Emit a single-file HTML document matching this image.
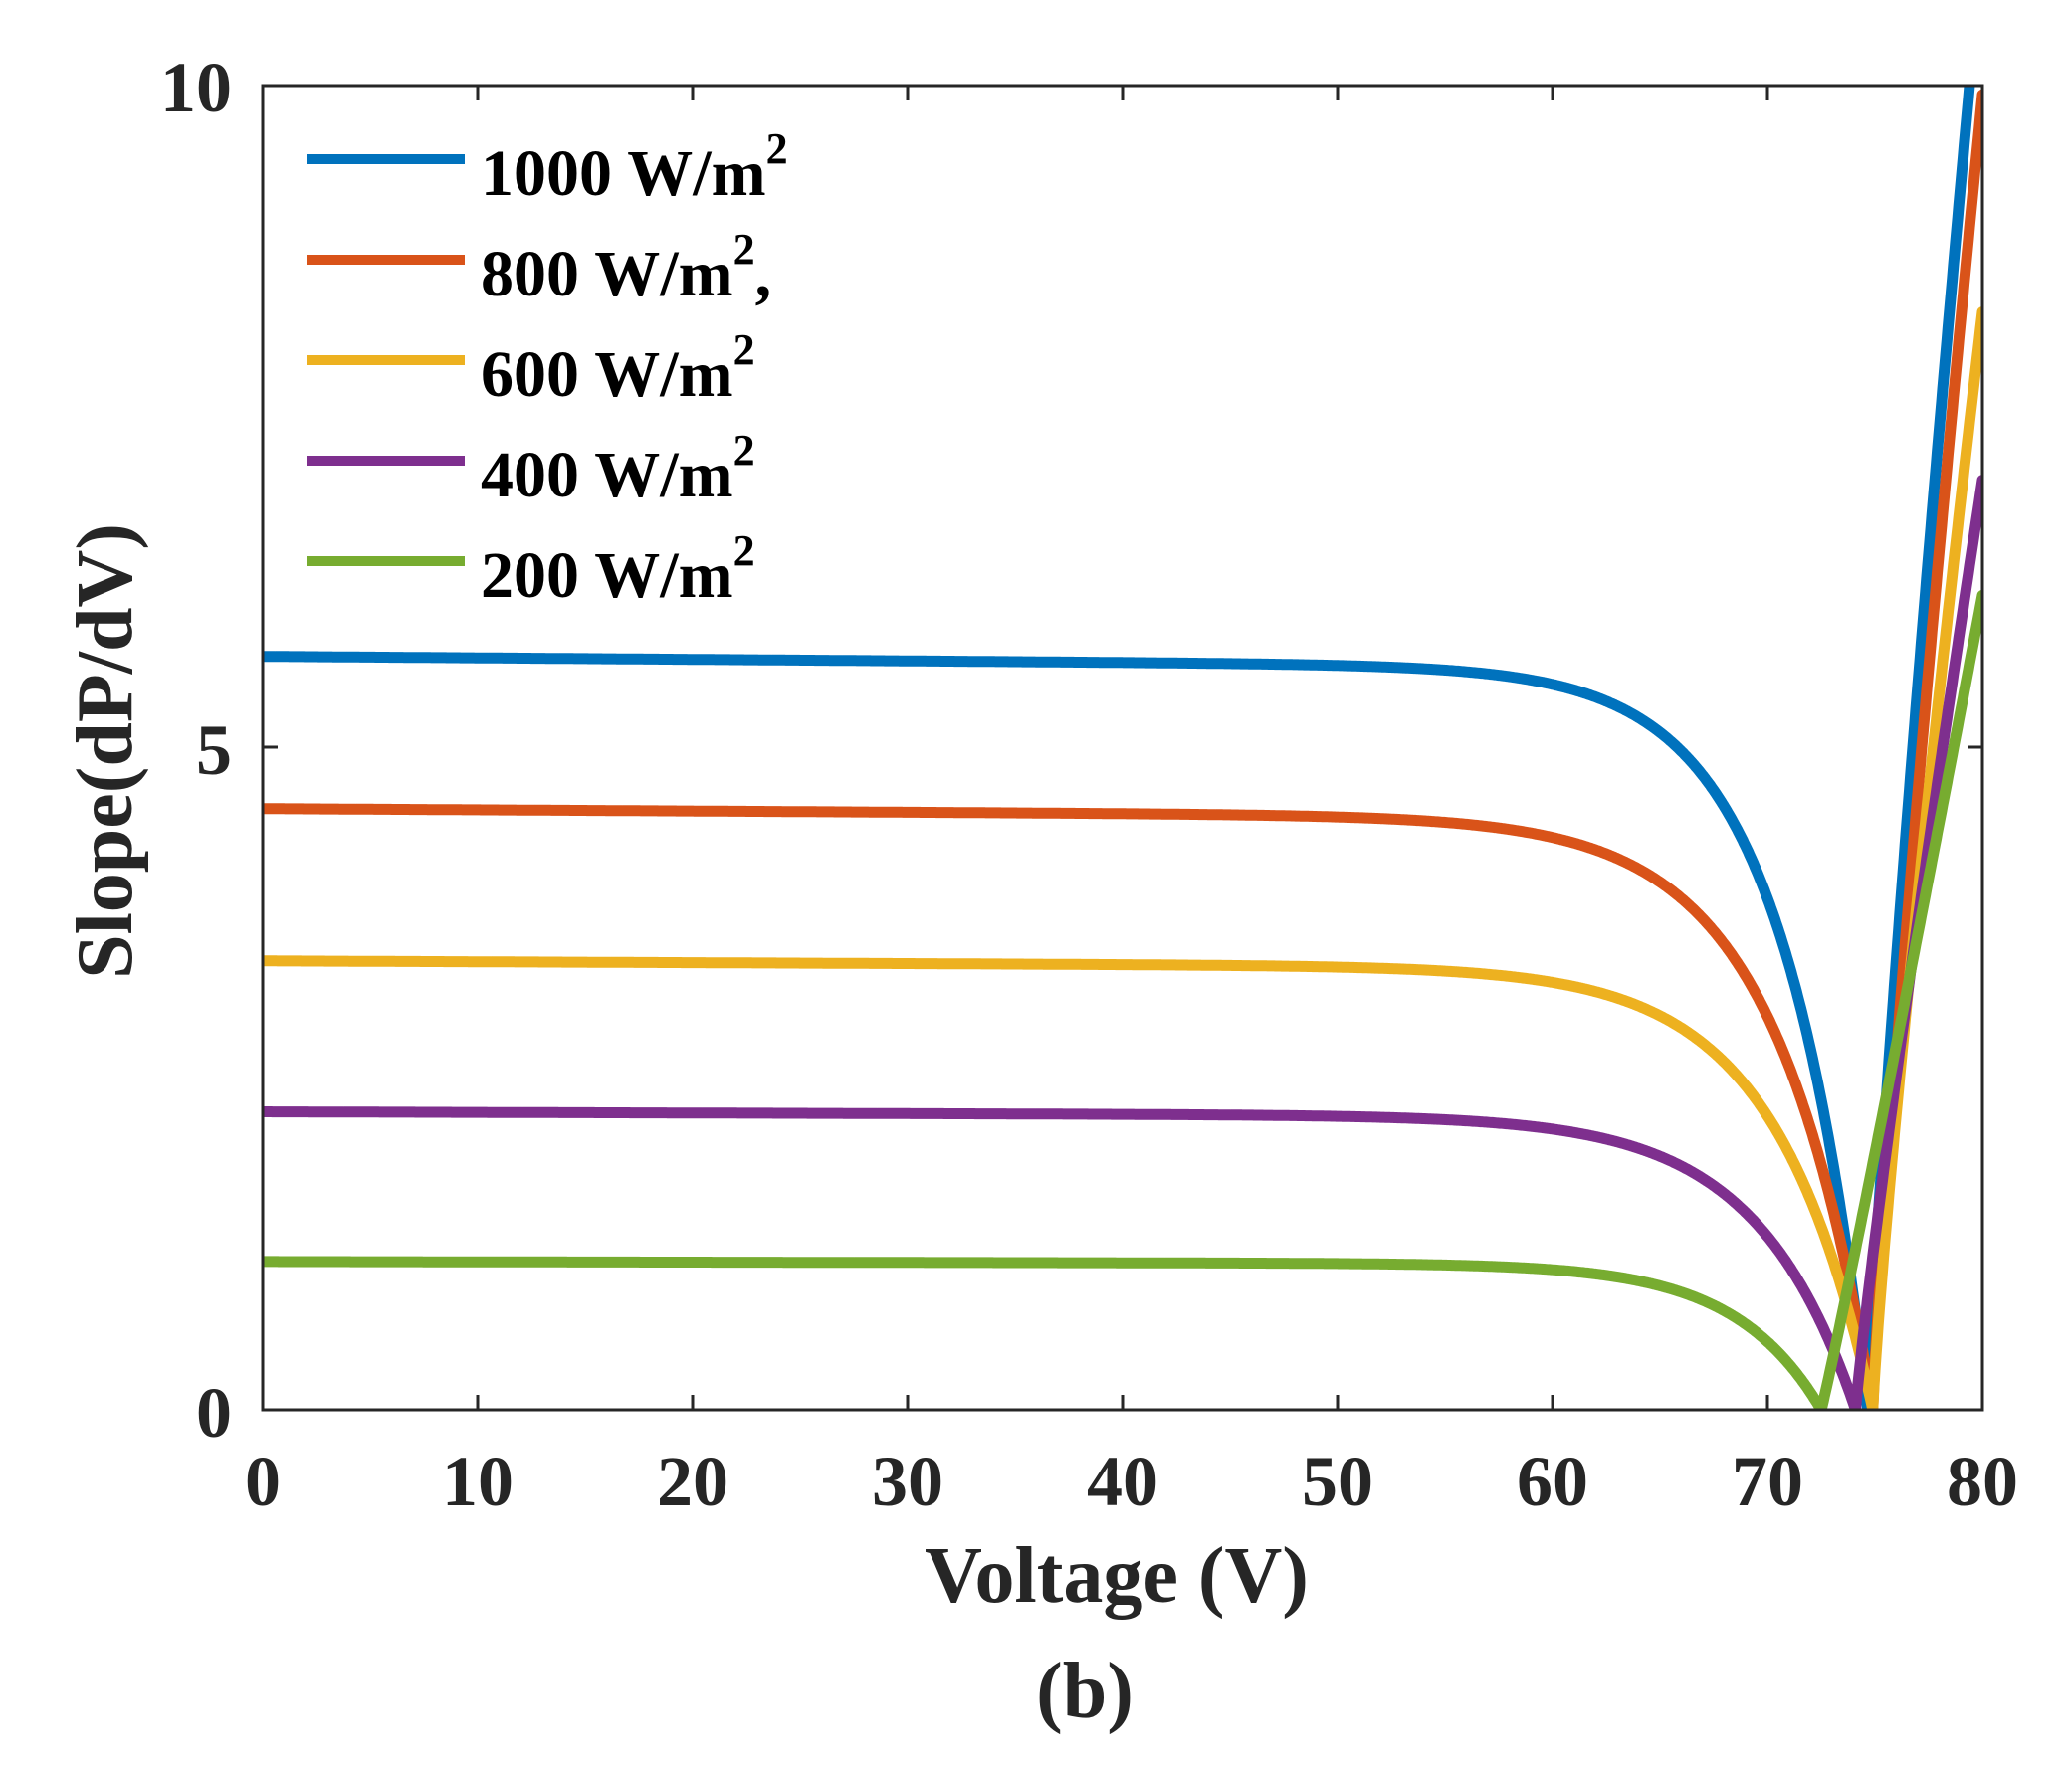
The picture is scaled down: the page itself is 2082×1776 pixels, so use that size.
<!DOCTYPE html>
<html><head><meta charset="utf-8"><style>
html,body{margin:0;padding:0;background:#fff;}
svg{display:block;}
text{font-family:"Liberation Serif","Times New Roman",serif;font-weight:bold;}
</style></head><body>
<svg id="s" width="2082" height="1776" viewBox="0 0 2082 1776" xmlns="http://www.w3.org/2000/svg">
<defs><clipPath id="c"><rect x="264" y="86" width="1728" height="1331"/></clipPath></defs>
<g id="curves" clip-path="url(#c)" fill="none" stroke-width="11" stroke-linejoin="round" stroke-linecap="round"></g>
<g stroke="#262626" stroke-width="3" fill="none">
<rect x="264" y="86" width="1728" height="1331"/>
<path id="ticks" d=""/>
</g>
<g fill="#262626" font-size="72">
<text x="233" y="112" text-anchor="end">10</text>
<text x="233" y="778" text-anchor="end">5</text>
<text x="233" y="1444" text-anchor="end">0</text>
<g id="xl" text-anchor="middle"></g>
<text x="1122" y="1610" text-anchor="middle" font-size="80">Voltage (V)</text>
<text x="1090" y="1726" text-anchor="middle" font-size="80">(b)</text>
<text transform="translate(132,755) rotate(-90)" text-anchor="middle" font-size="80">Slope(dP/dV)</text>
</g>
<g stroke-width="10">
<line x1="308" y1="160" x2="467" y2="160" stroke="#0072BD"/>
<line x1="308" y1="261" x2="467" y2="261" stroke="#D95319"/>
<line x1="308" y1="362" x2="467" y2="362" stroke="#EDB120"/>
<line x1="308" y1="463" x2="467" y2="463" stroke="#7E2F8E"/>
<line x1="308" y1="564" x2="467" y2="564" stroke="#77AC30"/>
</g>
<g fill="#000" font-size="66">
<text x="483" y="196">1000 W/m<tspan font-size="44" dy="-32">2</tspan></text>
<text x="483" y="297">800 W/m<tspan font-size="44" dy="-32">2</tspan><tspan dy="32">,</tspan></text>
<text x="483" y="398">600 W/m<tspan font-size="44" dy="-32">2</tspan></text>
<text x="483" y="499">400 W/m<tspan font-size="44" dy="-32">2</tspan></text>
<text x="483" y="600">200 W/m<tspan font-size="44" dy="-32">2</tspan></text>
</g>
</svg>
<script>
var X=function(v){return 264+v*21.6;},Y=function(g){return 1417-g*133.1;};
var series=[
 ["#0072BD",5.69,74.66,4.0,10.0/Math.pow(79.4-74.66,0.85),0.85],
 ["#D95319",4.54,74.9,4.5,9.93/Math.pow(80-74.9,0.85),0.85],
 ["#EDB120",3.39,74.9,4.5,8.29/Math.pow(80-74.9,0.85),0.85],
 ["#7E2F8E",2.25,74.1,4.6,7.02/Math.pow(80-74.1,0.9),0.9],
 ["#77AC30",1.12,72.5,4.0,6.15/Math.pow(80-72.5,1.05),1.05]
];
var g=document.getElementById('curves'),ns="http://www.w3.org/2000/svg";
series.forEach(function(s){
 var pts=[];
 for(var v=0;v<=80.0001;v+=0.05){
  var val;
  if(v<=s[2]){var A=s[1]*(1-0.0002*v);var A0=s[1]*(1-0.0002*s[2]);val=A-A0*Math.exp((v-s[2])/s[3]);}
  else val=s[4]*Math.pow(v-s[2],s[5]);
  if(val<0)val=0;
  pts.push(X(v).toFixed(1)+","+Y(val).toFixed(1));
  if(Math.abs(v-s[2])<0.05&&v<s[2]){pts.push(X(s[2]).toFixed(1)+","+Y(0).toFixed(1));}
 }
 var p=document.createElementNS(ns,"polyline");p.setAttribute("points",pts.join(" "));p.setAttribute("stroke",s[0]);g.appendChild(p);
});
var d="";
for(var i=1;i<8;i++){var x=X(i*10);d+="M"+x+",1417v-15M"+x+",86v15";}
d+="M264,751h15M1992,751h-15";
document.getElementById('ticks').setAttribute('d',d);
var xl=document.getElementById('xl');
for(var i=0;i<=8;i++){var t=document.createElementNS(ns,"text");t.setAttribute("x",X(i*10));t.setAttribute("y",1513);t.textContent=String(i*10);xl.appendChild(t);}
</script>
</body></html>
